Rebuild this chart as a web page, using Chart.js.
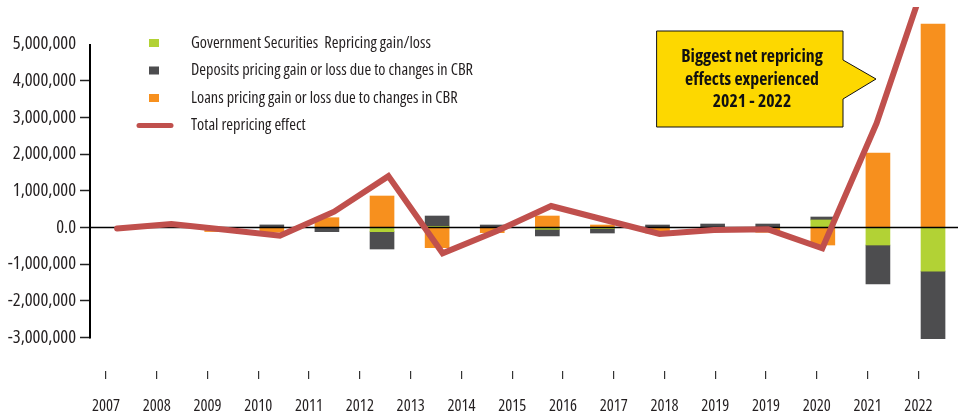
<!DOCTYPE html>
<html><head><meta charset="utf-8">
<script src="https://cdn.jsdelivr.net/npm/chart.js@4.4.1/dist/chart.umd.min.js"></script>
<style>html,body{margin:0;padding:0;background:#fff;} #wrap{position:relative;width:963px;height:415px;} canvas{display:block}</style>
</head><body><div id="wrap"><canvas id="c" width="963" height="415"></canvas></div>
<script>
// ---- data ----
const years = [2007,2008,2009,2010,2011,2012,2013,2014,2015,2016,2017,2018,2019,2020,2021,2022];
const tickLabels = ['2007','2008','2009','2010','2011','2012','2013','2014','2015','2016','2017','2018','2019','2019','2020','2021','2022'];
const govSecurities = [0, 0, 0, 0, 0, -114000, 30000, 0, -50000, -30000, 0, 0, 0, 205000, -477000, -1190000];
const deposits = [0, 30000, 0, 70000, -114000, -472000, 283000, 68000, -180000, -120000, 68000, 95000, 95000, 81000, -1060000, -1840000];
const loans = [0, 0, -110000, -130000, 267000, 858000, -550000, -140000, 313000, 68000, -150000, -40000, -130000, -477000, 2030000, 5540000];
const totalEffect = [-30000, 95000, -60000, -223000, 430000, 1400000, -703000, -95000, 586000, 204000, -177000, -68000, -50000, -567000, 2840000, 7200000];
const yTicks = [-3000000,-2000000,-1000000,0,1000000,2000000,3000000,4000000,5000000];
const seriesLabels = ['Government Securities  Repricing gain/loss','Deposits pricing gain or loss due to changes in CBR','Loans pricing gain or loss due to changes in CBR','Total repricing effect'];
const calloutLines = ['Biggest net repricing','effects experienced','2021 - 2022'];

const FAMILY = "'Open Sans','Roboto Condensed',sans-serif";
Chart.defaults.font.family = FAMILY;
Chart.defaults.font.weight = 'condensed';
Chart.defaults.color = '#231F20';

const COLORS = {gov:'#B2D235', dep:'#4D4D4F', loan:'#F7901E', total:'#C0504D'};

const overlay = {
  id: 'overlay',
  beforeDatasetDraw(chart, args) {
    if (chart.data.datasets[args.index].type !== 'line') return;
    const {ctx, chartArea: a, scales: {y}} = chart;
    ctx.save();
    const y0 = y.getPixelForValue(0);
    ctx.strokeStyle = '#000'; ctx.lineWidth = 1.5;
    ctx.beginPath(); ctx.moveTo(a.left, y0); ctx.lineTo(a.right, y0); ctx.stroke();
    ctx.lineWidth = 2;
    ctx.beginPath();
    ctx.moveTo(a.left, y.getPixelForValue(yTicks[yTicks.length-1]));
    ctx.lineTo(a.left, y.getPixelForValue(yTicks[0]) + 1);
    ctx.stroke();
    ctx.restore();
  },
  afterDraw(chart) {
    const ctx = chart.ctx;
    ctx.save();
    // legend
    const order = [1,2,3,0];
    ctx.font = "condensed 16.3px " + FAMILY;
    ctx.textBaseline = 'middle'; ctx.textAlign = 'left';
    order.forEach((di, k) => {
      const d = chart.data.datasets[di];
      const cy = 43 + k * 27.5;
      if (d.type === 'line') {
        ctx.strokeStyle = d.borderColor; ctx.lineWidth = 5; ctx.lineCap = 'round';
        ctx.beginPath(); ctx.moveTo(139, cy); ctx.lineTo(171, cy); ctx.stroke();
      } else {
        ctx.fillStyle = d.backgroundColor; ctx.fillRect(149, cy - 4, 10, 8);
      }
      ctx.fillStyle = '#231F20';
      ctx.fillText(d.label, 191, cy);
    });
    // callout
    ctx.beginPath();
    ctx.moveTo(657, 31); ctx.lineTo(843, 31); ctx.lineTo(843, 60); ctx.lineTo(876, 79);
    ctx.lineTo(843, 99); ctx.lineTo(843, 127); ctx.lineTo(657, 127); ctx.closePath();
    ctx.fillStyle = '#FDD800'; ctx.fill();
    ctx.strokeStyle = '#111'; ctx.lineWidth = 1; ctx.lineJoin = 'miter'; ctx.stroke();
    ctx.fillStyle = '#111';
    ctx.font = "bold condensed 17.8px " + FAMILY;
    ctx.textAlign = 'center';
    calloutLines.forEach((t, i) => ctx.fillText(t, 752, 57 + i * 22.5));
    ctx.restore();
  }
};

new Chart(document.getElementById('c'), {
  type: 'bar',
  data: {
    datasets: [
      {type: 'line', label: seriesLabels[3], data: totalEffect, xAxisID: 'xl', yAxisID: 'y',
       borderColor: COLORS.total, backgroundColor: COLORS.total, borderWidth: 6, pointRadius: 0,
       tension: 0, borderCapStyle: 'round', clip: 0, order: 0, stack: 'line'},
      {label: seriesLabels[0], data: years.map((yr, i) => ({x: yr, y: govSecurities[i]})),
       backgroundColor: COLORS.gov, xAxisID: 'xb', yAxisID: 'y', order: 1, stack: 'bars', barThickness: 24},
      {label: seriesLabels[1], data: years.map((yr, i) => ({x: yr, y: deposits[i]})),
       backgroundColor: COLORS.dep, xAxisID: 'xb', yAxisID: 'y', order: 1, stack: 'bars', barThickness: 24},
      {label: seriesLabels[2], data: years.map((yr, i) => ({x: yr, y: loans[i]})),
       backgroundColor: COLORS.loan, xAxisID: 'xb', yAxisID: 'y', order: 1, stack: 'bars', barThickness: 24}
    ]
  },
  options: {
    responsive: false, animation: false,
    layout: {padding: {top: 7, right: 5, left: 0, bottom: 0}},
    plugins: {legend: {display: false}, tooltip: {enabled: false}},
    scales: {
      xb: {type: 'linear', position: 'bottom', display: false, stacked: true, offset: false,
           grid: {offset: false}, min: 2006.918, max: 2022.671},
      xl: {type: 'category', labels: years.map(String), position: 'bottom', display: false, offset: true},
      xt: {type: 'linear', position: 'bottom', min: -0.315, max: 16.78, offset: false,
           afterBuildTicks: s => { s.ticks = tickLabels.map((_, i) => ({value: i})); },
           afterFit: s => { s.height = 44; s.paddingLeft = 0; s.paddingRight = 0; },
           grid: {drawOnChartArea: false, offset: false, tickLength: 8, color: '#333', lineWidth: 1.2},
           border: {display: false},
           ticks: {callback: v => tickLabels[v], padding: 17, font: {size: 16.5}, maxRotation: 0, autoSkip: false, color: '#231F20'}},
      y: {type: 'linear', stacked: true, min: -3910000, max: 6008000,
          afterBuildTicks: s => { s.ticks = yTicks.map(v => ({value: v})); },
          afterFit: s => { s.width = 90; s.paddingTop = 0; s.paddingBottom = 0; },
          grid: {drawOnChartArea: false, tickLength: 10, tickWidth: 1.5,
                 tickColor: c => (c.tick && c.tick.value === yTicks[yTicks.length-1]) ? 'rgba(0,0,0,0)' : '#222'},
          border: {display: false},
          ticks: {padding: 4, font: {size: 18.5}, color: '#231F20',
                  callback: v => v === 0 ? '0.0' : Number(v).toLocaleString('en-US')}}
    }
  },
  plugins: [overlay]
});
</script>
</body></html>
